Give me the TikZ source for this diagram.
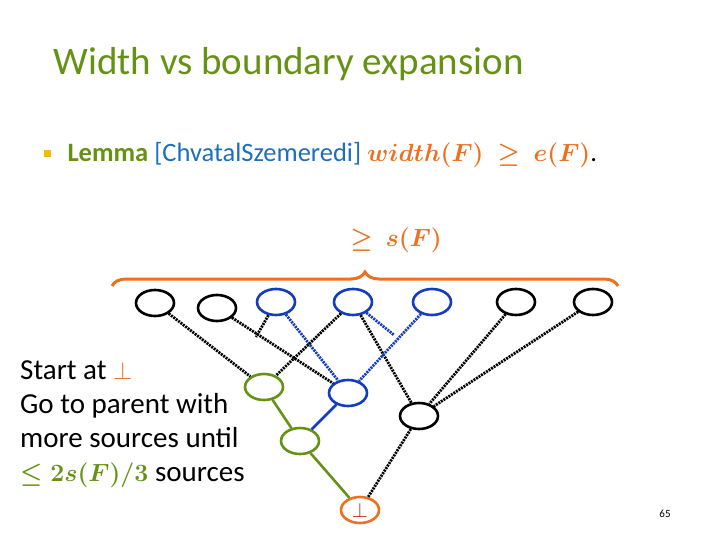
\documentclass[tikz,border=0pt]{standalone}
\usepackage{amsmath,amssymb}
\usepackage{fontspec}
\setmainfont{Carlito}
\usetikzlibrary{shapes.geometric,decorations.pathreplacing}
\definecolor{tgreen}{RGB}{102,146,20}
\definecolor{tblue}{RGB}{20,60,190}
\definecolor{torange}{RGB}{237,112,30}
\definecolor{tcite}{RGB}{30,110,190}
\definecolor{tyellow}{RGB}{240,190,0}
\definecolor{tred}{RGB}{200,30,30}
\begin{document}
\begin{tikzpicture}[x=1pt,y=-1pt,
  vert/.style={ellipse,draw,line width=2.6pt,minimum width=38pt,minimum height=26pt,inner sep=0pt},
  bv/.style={vert,draw=black},
  blv/.style={vert,draw=tblue},
  gv/.style={vert,draw=tgreen},
  dk/.style={line width=2.8pt,dash pattern=on 2pt off 1pt,draw=black},
  db/.style={line width=2.8pt,dash pattern=on 2pt off 1pt,draw=tblue},
  sg/.style={line width=2.6pt,draw=tgreen},
  sb/.style={line width=2.6pt,draw=tblue}]
\useasboundingbox (0,0) rectangle (720,540);
\node[anchor=west,text=tgreen,font=\fontsize{39}{44}\selectfont] (title) at (50,64) {Width vs boundary expansion};
\node[fill=tyellow,minimum size=7pt,inner sep=0pt] (bul) at (47,154) {};
\node[anchor=west,font=\fontsize{26.5}{30}\selectfont] (lemma) at (64,155) {\textcolor{tgreen}{\textbf{Lemma}} \textcolor{tcite}{[ChvatalSzemeredi]} \textcolor{torange}{$\boldsymbol{width(F)\ \geq\ e(F)}$}.};
\node[text=torange,font=\fontsize{23}{26}\selectfont] (sf) at (396,240) {$\boldsymbol{\geq\ s(F)}$};
\draw[torange,line width=3pt,decorate,decoration={brace,amplitude=14pt}] (112,286) -- (618,286);
\node[bv] (t1) at (155,303) {};
\node[bv] (t2) at (217,308) {};
\node[blv] (t3) at (276,302) {};
\node[blv] (t4) at (353,302) {};
\node[blv] (t5) at (432,302) {};
\node[bv] (t6) at (516,302) {};
\node[bv] (t7) at (593,302) {};
\node[gv] (g1) at (264,387) {};
\node[blv] (b1) at (348,393) {};
\node[bv] (k) at (419,416) {};
\node[gv] (g2) at (300,441) {};
\node[vert,draw=torange,text=tred,font=\fontsize{22}{22}\selectfont] (bot) at (360,510) {$\perp$};
\coordinate (j3) at (256,337);
\coordinate (j4) at (394,335);
\draw[dk] (t1) -- (g1);
\draw[dk] (t2) -- (b1);
\draw[dk] (t3) -- (j3);
\draw[db] (t3) -- (b1);
\draw[dk] (t4) -- (g1);
\draw[dk] (t4) -- (k);
\draw[db] (t4) -- (j4);
\draw[db] (t5) -- (b1);
\draw[dk] (t6) -- (k);
\draw[dk] (t7) -- (k);
\draw[dk] (k) -- (bot);
\draw[sg] (g1) -- (g2);
\draw[sb] (b1) -- (g2);
\draw[sg] (g2) -- (bot);
\node[anchor=north west,align=left,inner sep=0pt,font=\fontsize{29}{34}\selectfont] (txt) at (20,360) {Start at \textcolor{torange}{$\perp$}\\Go to parent with\\more sources until\\\textcolor{tgreen}{$\boldsymbol{\leq 2s(F)/3}$} sources};
\node[font=\fontsize{11}{12}\selectfont] (pg) at (665,514) {65};
\end{tikzpicture}
\end{document}
